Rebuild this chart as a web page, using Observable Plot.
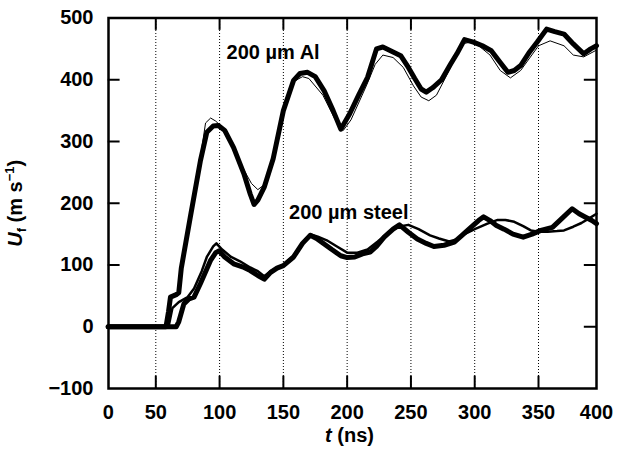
<!DOCTYPE html>
<html><head><meta charset="utf-8">
<script src="https://cdn.jsdelivr.net/npm/d3@7"></script>
<script src="https://cdn.jsdelivr.net/npm/@observablehq/plot@0.6"></script>
<style>body{margin:0;background:#fff} svg{display:block}</style>
</head><body><div id="chart"></div>
<script>
// tick labels
const xTicks = [0, 50, 100, 150, 200, 250, 300, 350, 400];
const yTicks = [-100, 0, 100, 200, 300, 400, 500];
const gridTimes = [50, 100, 150, 200, 250, 300, 350];
const yTicksLeft = [100, 200, 300, 400];
const yTicksRight = [0, 100, 200, 300, 400];

// 200 um Al, thick trace
const alThickT = [0, 58, 60, 61.5, 66, 68, 70, 77, 85, 90, 95, 99, 104, 111, 119, 124, 127, 130, 135, 142, 150, 158, 163, 169, 175, 182, 189, 195, 202, 209, 216, 223, 228, 234, 242, 248, 253, 258, 262, 267, 274, 281, 286, 292, 299, 306, 313, 320, 326, 331, 336, 343, 349, 357, 364, 372, 380, 389, 395, 400];
const alThickU = [0, 0, 25, 48, 52, 55, 95, 177, 269, 315, 325, 326, 318, 290, 248, 215, 198, 205, 226, 272, 350, 399, 410, 412, 405, 382, 350, 320, 345, 375, 404, 450, 453, 447, 439, 420, 402, 385, 380, 387, 400, 425, 442, 465, 461, 455, 447, 428, 412, 415, 423, 445, 461, 482, 478, 474, 458, 442, 450, 455];
// 200 um Al, thin trace
const alThinT = [0, 57, 60, 62, 67, 70, 78, 85, 89, 93, 97, 101, 110, 118, 125, 130, 135, 142, 150, 158, 165, 170, 181, 190, 197, 203, 215, 222, 228, 236, 244, 252, 258, 264, 270, 280, 290, 299, 312, 320, 328, 336, 350, 360, 372, 380, 389, 400];
const alThinU = [0, 0, 30, 48, 55, 95, 185, 275, 330, 338, 333, 325, 295, 258, 232, 222, 230, 272, 348, 397, 405, 402, 375, 338, 318, 335, 390, 425, 440, 436, 420, 390, 372, 366, 375, 415, 458, 462, 440, 415, 403, 415, 455, 463, 455, 440, 437, 448];
// 200 um steel, thick trace
const stThickT = [0, 66, 68, 72, 76, 80, 85, 92.8, 97, 99.5, 104, 111, 118, 124, 130, 135, 140, 145, 150, 158, 165, 171, 176, 182, 188, 195, 200, 206, 212, 218, 223, 229, 236, 241, 248, 255, 262, 268, 276, 284, 290, 297, 303, 307, 312, 317, 323, 330, 338, 345, 352, 362, 370, 379, 385, 391, 396, 400];
const stThickU = [0, 0, 8, 37, 45, 48, 70, 107, 120, 123, 113, 102, 97, 91, 83, 77, 88, 95, 99, 113, 135, 148, 143, 134, 125, 115, 112, 113, 118, 121, 130, 145, 158, 165, 153, 142, 135, 130, 132, 137, 148, 161, 172, 178, 172, 164, 158, 150, 145, 150, 156, 161, 175, 191, 183, 177, 172, 167];
// 200 um steel, medium trace
const stMedT = [0, 60, 63, 68, 75, 80, 86, 90, 95, 97.5, 102, 109, 116, 124, 130, 135, 140, 150, 158, 165, 171, 177, 184, 192, 200, 208, 216, 224, 232, 240, 248, 256, 265, 272, 280, 287, 292, 300, 310, 318, 324, 331, 338, 344, 350, 358, 366, 372, 380, 387, 394, 400];
const stMedU = [0, 0, 30, 40, 48, 62, 90, 113, 130, 135, 125, 113, 106, 96, 90, 82, 90, 100, 115, 136, 150, 146, 140, 130, 120, 120, 125, 138, 152, 162, 165, 158, 148, 143, 138, 142, 150, 158, 167, 173, 173, 170, 163, 156, 154, 154, 155, 156, 162, 168, 176, 183];

// annotations
const labelText = ["200 µm Al", "200 µm steel"];
const labelT = [105.5, 154.5];
const labelU = [444, 185];

const series = (t, u) => t.map((x, i) => ({t: x, u: u[i]}));
const labels = labelText.map((s, i) => ({s, t: labelT[i], u: labelU[i]}));
const fmt = d => d < 0 ? "\u2212" + (-d) : String(d);

const chart = Plot.plot({
  width: 618, height: 453,
  marginLeft: 108, marginRight: 22, marginTop: 17.5, marginBottom: 65,
  style: {fontFamily: "'Liberation Sans', Arial, Helvetica, sans-serif", fontSize: "20px", fontWeight: "bold", background: "#fff", color: "#000"},
  x: {type: "linear", domain: [0, 50, 350, 400], range: [107.7, 155.3, 538, 596]},
  y: {domain: [-100, 500]},
  marks: [
    Plot.ruleX(gridTimes, {x: d => d, y1: -100, y2: 500, stroke: "#000", strokeWidth: 1, strokeDasharray: "1,2"}),
    Plot.line(series(alThinT, alThinU), {x: "t", y: "u", stroke: "#000", strokeWidth: 1}),
    Plot.line(series(alThickT, alThickU), {x: "t", y: "u", stroke: "#000", strokeWidth: 5, strokeLinejoin: "round"}),
    Plot.line(series(stMedT, stMedU), {x: "t", y: "u", stroke: "#000", strokeWidth: 2.5, strokeLinejoin: "round"}),
    Plot.line(series(stThickT, stThickU), {x: "t", y: "u", stroke: "#000", strokeWidth: 5, strokeLinejoin: "round"}),
    Plot.ruleX(gridTimes, {x: d => d, y1: -100, y2: -80, stroke: "#000", strokeWidth: 2}),
    Plot.ruleX(gridTimes, {x: d => d, y1: 500, y2: 480, stroke: "#000", strokeWidth: 2}),
    Plot.ruleY(yTicksLeft, {y: d => d, x1: 0, x2: 12.5, stroke: "#000", strokeWidth: 2}),
    Plot.ruleY(yTicksRight, {y: d => d, x1: 400, x2: 389.5, stroke: "#000", strokeWidth: 2}),
    Plot.frame({stroke: "#000", strokeWidth: 2.5}),
    Plot.axisX({ticks: xTicks, tickSize: 0, tickPadding: 16, fontSize: 20, label: null, tickFormat: fmt}),
    Plot.axisY({ticks: yTicks, tickSize: 0, tickPadding: 15, fontSize: 20, label: null, tickFormat: fmt}),
    Plot.text(labels, {x: "t", y: "u", text: "s", textAnchor: "start", fontSize: 20, fill: "#000"}),
    Plot.text(["t (ns)"], {text: d => d, frameAnchor: "bottom", dx: -3, dy: 53, textAnchor: "middle", fontSize: 20, fill: "#000"}),
    Plot.text(["U (m s)"], {text: d => d, frameAnchor: "left", rotate: -90, dx: -93, textAnchor: "middle", fontSize: 20, fill: "#000"})
  ]
});
document.getElementById("chart").appendChild(chart);

const svg = d3.select(chart);
const texts = svg.selectAll("text");
const xl = texts.filter(function() { return this.textContent === "t (ns)"; }).text(null);
xl.append("tspan").attr("font-style", "italic").text("t");
xl.append("tspan").text(" (ns)");
const yl = texts.filter(function() { return this.textContent === "U (m s)"; }).text(null);
yl.append("tspan").attr("font-style", "italic").text("U");
yl.append("tspan").attr("font-size", 13).attr("dy", 4).text("f");
yl.append("tspan").attr("dy", -4).text(" (m s");
yl.append("tspan").attr("font-size", 13).attr("dy", -8).text("\u22121");
yl.append("tspan").attr("dy", 8).text(")");
</script></body></html>
